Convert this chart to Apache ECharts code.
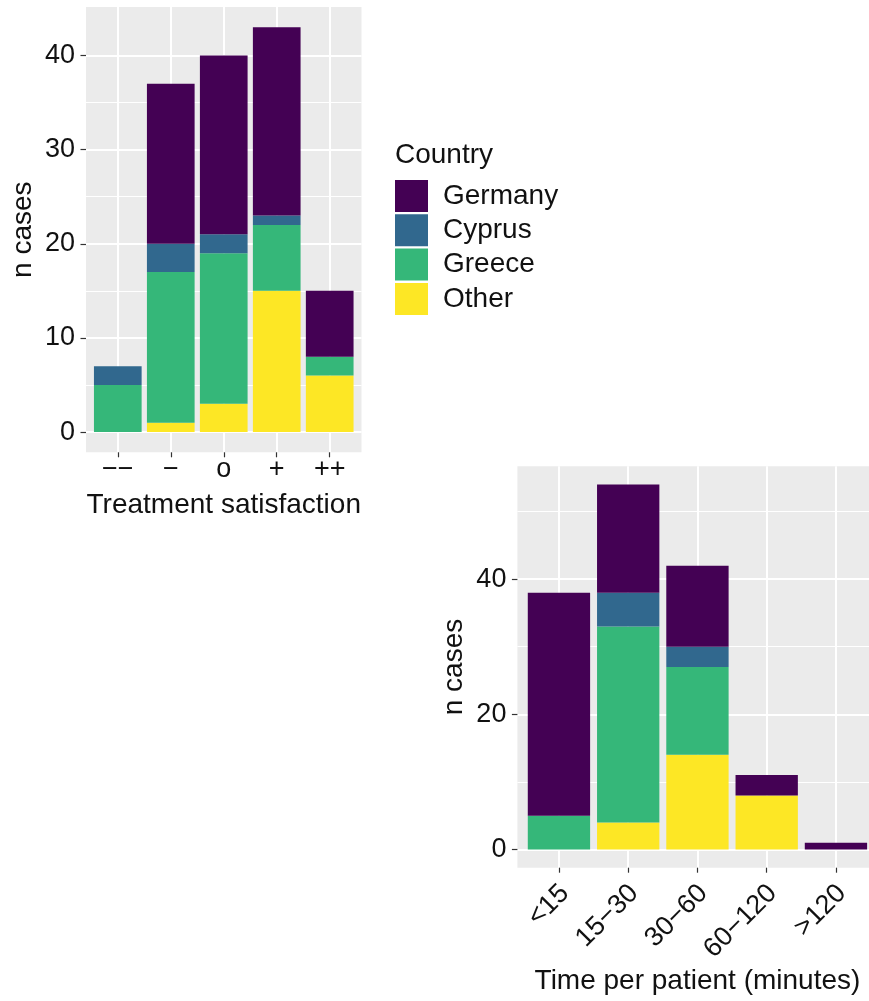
<!DOCTYPE html>
<html>
<head>
<meta charset="utf-8">
<script src="https://cdn.jsdelivr.net/npm/echarts@6/dist/echarts.min.js"></script>
<style>
html,body{margin:0;padding:0;background:#fff;}
#chart{width:869px;height:1001px;}
</style>
</head>
<body>
<div id="chart"></div>
<script>
// ---- data ----
const countries = ['Germany', 'Cyprus', 'Greece', 'Other'];
const countryColors = ['#440154', '#31688E', '#35B779', '#FDE725'];

const satCategories = ['\u2212\u2212', '\u2212', 'o', '+', '++'];
const satGermany = [0, 17, 19, 20, 7];
const satCyprus  = [2, 3, 2, 1, 0];
const satGreece  = [5, 16, 16, 7, 2];
const satOther   = [0, 1, 3, 15, 6];
const satTicks = [0, 10, 20, 30, 40];
const satMinorTicks = [5, 15, 25, 35];

const timeCategories = ['<15', '15\u221230', '30\u221260', '60\u2212120', '>120'];
const timeGermany = [33, 16, 12, 3, 1];
const timeCyprus  = [0, 5, 3, 0, 0];
const timeGreece  = [5, 29, 13, 0, 0];
const timeOther   = [0, 4, 14, 8, 0];
const timeTicks = [0, 20, 40];
const timeMinorTicks = [10, 30, 50];

// ---- chart ----
const FONT = '"Liberation Sans", Arial, Helvetica, sans-serif';
const TXT = '#111';
const TICK_FS = 27;
const TITLE_FS = 28;
const chart = echarts.init(document.getElementById('chart'), null, {renderer: 'canvas'});

function catIdx(n) { return Array.from({length: n}, (_, i) => i); }

// panel frames (ggplot panel incl. 0.6-unit discrete expansion); bar grid is inset by 0.1 unit
const panels = [
  {left: 86, top: 7, width: 275.5, height: 445.3},
  {left: 517.4, top: 466.3, width: 360.1, height: 401.4}
];
function barGridOf(p, n) {
  const unit = p.width / (n + 0.2);
  return {left: p.left + 0.1 * unit, top: p.top, width: n * unit, height: p.height};
}

function frameXAxis(grid, cats, name, nameGap, rotated) {
  const ax = {
    type: 'value', gridIndex: grid, min: -0.6, max: cats.length - 0.4,
    axisLine: {show: false, onZero: false},
    axisTick: {show: true, length: 5, lineStyle: {color: '#333', width: 1.2}, customValues: catIdx(cats.length)},
    axisLabel: {
      show: true, customValues: catIdx(cats.length), color: TXT, fontSize: TICK_FS, fontFamily: FONT,
      margin: 4, formatter: v => cats[Math.round(v)]
    },
    splitLine: {show: true, lineStyle: {color: '#fff', width: 2}},
    name: name, nameLocation: 'middle', nameGap: nameGap,
    nameTextStyle: {color: TXT, fontSize: TITLE_FS, fontFamily: FONT}
  };
  if (rotated) {
    ax.axisLabel.rotate = 45;
    ax.axisLabel.align = 'right';
    ax.axisLabel.verticalAlign = 'top';
    ax.axisLabel.padding = [1, 6, 0, 0];
    ax.axisLabel.margin = 7;
  }
  return ax;
}

function frameYAxis(grid, min, max, ticks) {
  return {
    type: 'value', gridIndex: grid, min: min, max: max,
    axisLine: {show: false, onZero: false},
    axisTick: {show: true, length: 5.5, lineStyle: {color: '#333', width: 1.2}, customValues: ticks},
    axisLabel: {show: true, customValues: ticks, color: TXT, fontSize: TICK_FS, fontFamily: FONT, margin: 11},
    splitLine: {show: true, lineStyle: {color: '#fff', width: 2}},
    name: 'n cases', nameLocation: 'middle', nameGap: 49, nameRotate: 90,
    nameTextStyle: {color: TXT, fontSize: TITLE_FS, fontFamily: FONT}
  };
}

function minorYAxis(grid, min, max, ticks) {
  return {
    type: 'value', gridIndex: grid, min: min, max: max, position: 'left',
    axisLine: {show: false, onZero: false},
    axisTick: {show: false, customValues: ticks},
    axisLabel: {show: false, customValues: ticks},
    splitLine: {show: true, lineStyle: {color: '#fff', width: 1}}
  };
}

function hiddenCatAxis(grid, cats) {
  return {type: 'category', gridIndex: grid, data: cats, boundaryGap: true, show: false,
          axisLine: {show: false, onZero: false}, axisTick: {show: false}, axisLabel: {show: false}, splitLine: {show: false}};
}
function hiddenValAxis(grid, min, max) {
  return {type: 'value', gridIndex: grid, min: min, max: max, show: false,
          axisLine: {show: false, onZero: false}, axisTick: {show: false}, axisLabel: {show: false}, splitLine: {show: false}};
}

function barSeries(name, color, vals, xi, yi, stack) {
  return {
    type: 'bar', name: name, xAxisIndex: xi, yAxisIndex: yi, stack: stack,
    barWidth: '90%', itemStyle: {color: color, borderWidth: 0},
    silent: true, animation: false,
    data: vals
  };
}

const satVals = {Germany: satGermany, Cyprus: satCyprus, Greece: satGreece, Other: satOther};
const timeVals = {Germany: timeGermany, Cyprus: timeCyprus, Greece: timeGreece, Other: timeOther};
const stackOrder = ['Other', 'Greece', 'Cyprus', 'Germany'];
const series = [];
stackOrder.forEach(c => {
  series.push(barSeries(c, countryColors[countries.indexOf(c)], satVals[c], 1, 2, 'sat'));
});
stackOrder.forEach(c => {
  series.push(barSeries(c, countryColors[countries.indexOf(c)], timeVals[c], 3, 5, 'time'));
});

const gridBase = {borderWidth: 0, containLabel: false, outerBoundsMode: 'none'};
chart.setOption({
  animation: false,
  backgroundColor: '#fff',
  title: {
    text: 'Country', left: 395, top: 141, padding: 0,
    textStyle: {color: TXT, fontSize: TITLE_FS, fontWeight: 'normal', fontFamily: FONT}
  },
  legend: {
    data: countries, orient: 'vertical', left: 395, top: 180, padding: 0,
    itemWidth: 33, itemHeight: 32, itemGap: 2.3, icon: 'rect', selectedMode: false,
    textStyle: {color: TXT, fontSize: TITLE_FS, fontFamily: FONT, padding: [0, 0, 0, 10]}
  },
  grid: [
    Object.assign({}, gridBase, panels[0], {show: true, backgroundColor: '#EBEBEB'}),
    Object.assign({}, gridBase, barGridOf(panels[0], satCategories.length), {show: false}),
    Object.assign({}, gridBase, panels[1], {show: true, backgroundColor: '#EBEBEB'}),
    Object.assign({}, gridBase, barGridOf(panels[1], timeCategories.length), {show: false})
  ],
  xAxis: [
    frameXAxis(0, satCategories, 'Treatment satisfaction', 39, false),
    hiddenCatAxis(1, satCategories),
    frameXAxis(2, timeCategories, 'Time per patient (minutes)', 100, true),
    hiddenCatAxis(3, timeCategories)
  ],
  yAxis: [
    frameYAxis(0, -2.15, 45.15, satTicks),
    minorYAxis(0, -2.15, 45.15, satMinorTicks),
    hiddenValAxis(1, -2.15, 45.15),
    frameYAxis(2, -2.7, 56.7, timeTicks),
    minorYAxis(2, -2.7, 56.7, timeMinorTicks),
    hiddenValAxis(3, -2.7, 56.7)
  ],
  series: series
});
</script>
</body>
</html>
